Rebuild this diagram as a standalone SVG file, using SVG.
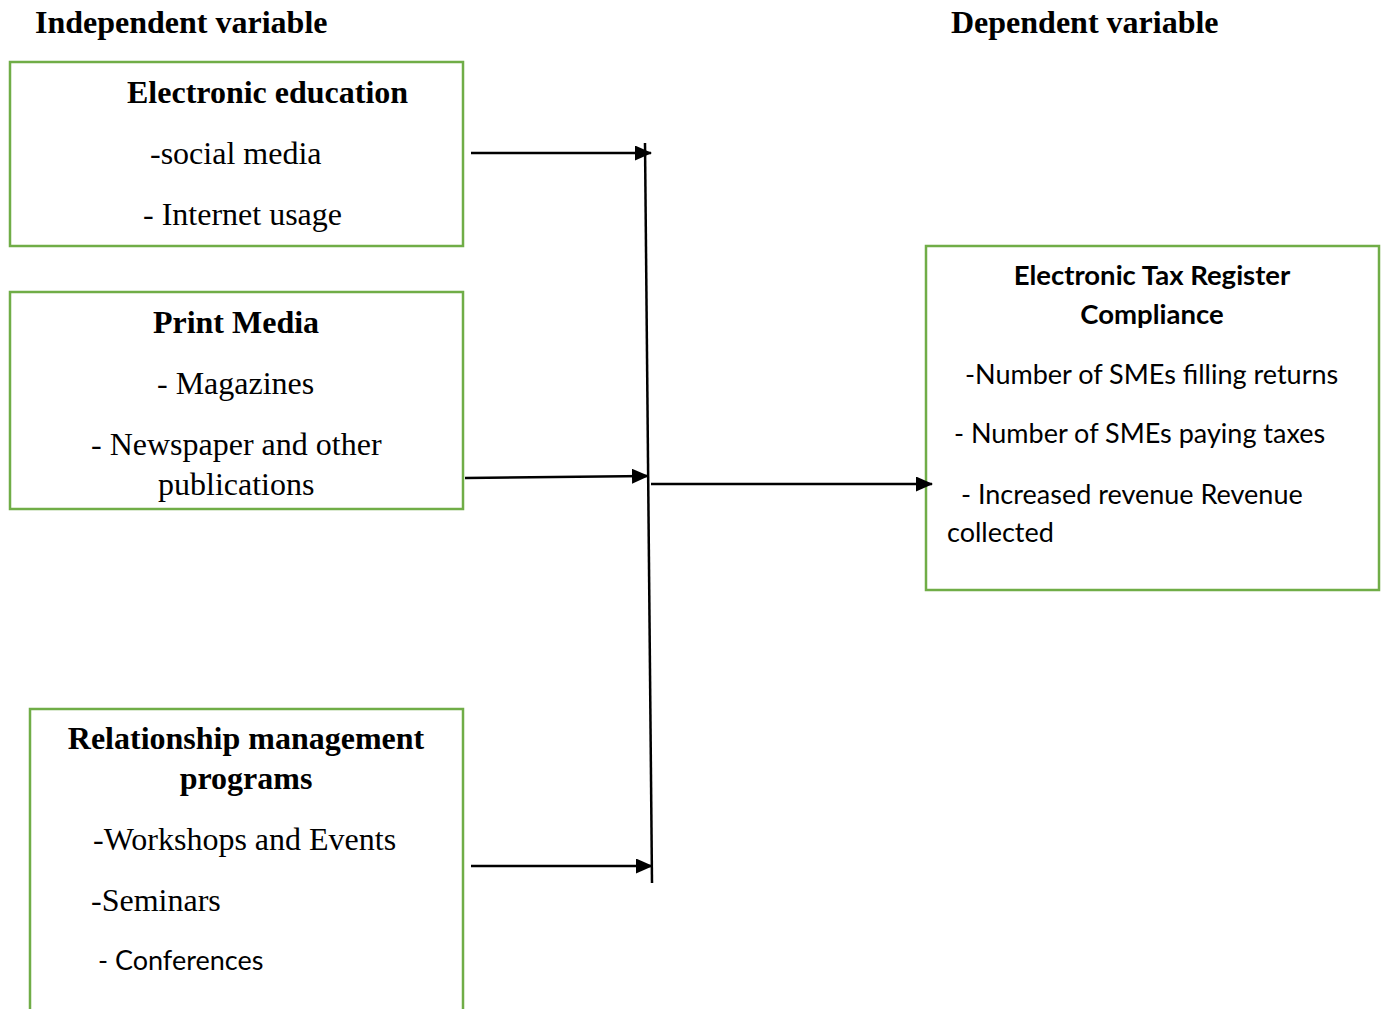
<svg xmlns="http://www.w3.org/2000/svg" width="1381" height="1009" viewBox="0 0 1381 1009">
<defs>
<style>
.box{fill:#fff;stroke:#70AD47;stroke-width:2.5}
.tb{font-family:"Liberation Serif",serif;font-weight:bold;fill:#000;font-size:32px}
.t{font-family:"Liberation Serif",serif;fill:#000;font-size:32px}
.c{font-family:Lato,"Liberation Sans",sans-serif;fill:#000;font-size:27px}
.cb{font-family:Lato,"Liberation Sans",sans-serif;font-weight:bold;fill:#000;font-size:27.5px}
.ln{stroke:#000;stroke-width:2.5;fill:none}
</style>
<marker id="ah2" markerWidth="17" markerHeight="15" refX="16" refY="7.5" orient="auto" markerUnits="userSpaceOnUse" viewBox="0 0 17 15">
<path d="M0,0 L17,7.5 L0,15 z" fill="#000"/>
</marker>
</defs>
<rect width="1381" height="1009" fill="#fff"/>
<g id="headers">
<text class="tb" x="35" y="33">Independent variable</text>
<text class="tb" x="951" y="33">Dependent variable</text>
</g>
<g id="node-electronic-education">
<rect class="box" x="10" y="62" width="453" height="184"/>
<text class="tb" x="127" y="103">Electronic education</text>
<text class="t" x="150" y="164">-social media</text>
<text class="t" x="143" y="225">- Internet usage</text>
</g>
<g id="node-print-media">
<rect class="box" x="10" y="292" width="453" height="217"/>
<text class="tb" x="236" y="333" text-anchor="middle">Print Media</text>
<text class="t" x="157" y="394">- Magazines</text>
<text class="t" x="91" y="455">- Newspaper and other</text>
<text class="t" x="158" y="495">publications</text>
</g>
<g id="node-relationship">
<rect class="box" x="30" y="709" width="433" height="330"/>
<text class="tb" x="246" y="749" text-anchor="middle">Relationship management</text>
<text class="tb" x="246" y="789" text-anchor="middle">programs</text>
<text class="t" x="93" y="850">-Workshops and Events</text>
<text class="t" x="91" y="911">-Seminars</text>
<text class="c" x="98" y="970">- Conferences</text>
</g>
<g id="node-etr-compliance">
<rect class="box" x="926" y="246" width="453" height="344"/>
<text class="cb" x="1152" y="285" text-anchor="middle">Electronic Tax Register</text>
<text class="cb" x="1152" y="324" text-anchor="middle">Compliance</text>
<text class="c" x="965" y="384">-Number of SMEs filling returns</text>
<text class="c" x="954" y="443">- Number of SMEs paying taxes</text>
<text class="c" x="961" y="504">- Increased revenue Revenue</text>
<text class="c" x="947" y="542">collected</text>
</g>
<g id="connectors">
<line class="ln" x1="645" y1="143" x2="652" y2="883"/>
<line class="ln" x1="471" y1="153" x2="651" y2="153" marker-end="url(#ah2)"/>
<line class="ln" x1="465" y1="478" x2="648" y2="476" marker-end="url(#ah2)"/>
<line class="ln" x1="471" y1="866" x2="652" y2="866" marker-end="url(#ah2)"/>
<line class="ln" x1="651" y1="484" x2="932" y2="484" marker-end="url(#ah2)"/>
</g>
</svg>
